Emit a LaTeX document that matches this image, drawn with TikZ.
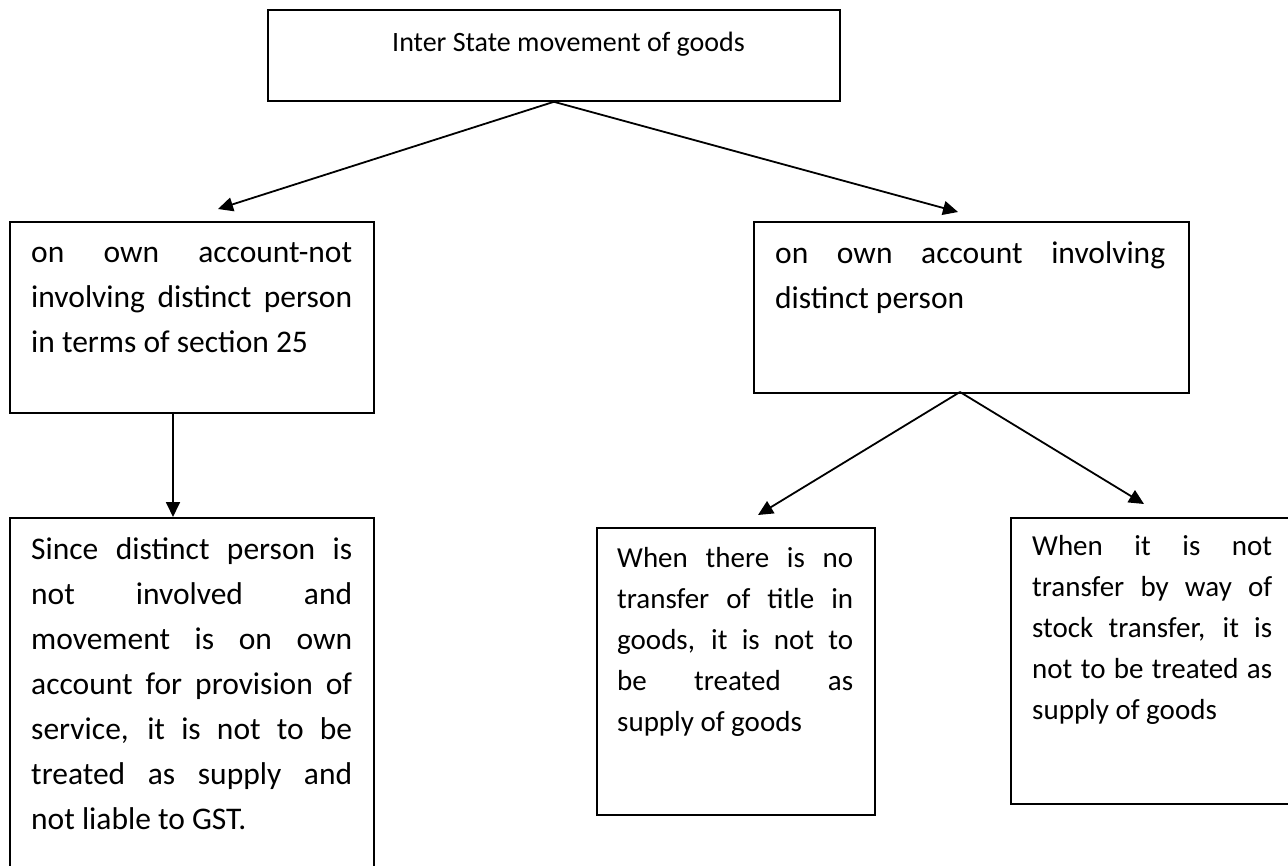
\documentclass[tikz,border=0pt]{standalone}
\usepackage{fontspec}
\setmainfont{Carlito}
\usetikzlibrary{arrows.meta,calc}
\hyphenpenalty=10000
\exhyphenpenalty=10000
\tolerance=10000
\begin{document}
\begin{tikzpicture}[x=1pt,y=-1pt,
  box/.style={draw, line width=1.8pt, rectangle, inner sep=0pt, anchor=north west},
  conn/.style={line width=1.8pt, -{Triangle[length=15pt,width=14pt]}},
  bigtxt/.style={inner sep=0pt, anchor=north west, align=justify, font=\fontsize{31.5}{45}\selectfont},
  smalltxt/.style={inner sep=0pt, anchor=north west, align=justify, font=\fontsize{29}{41}\selectfont}]
\useasboundingbox (0,0) rectangle (1288,866);
\clip (0,0) rectangle (1288,866);
\fill[white] (0,0) rectangle (1288,866);
% boxes
\node[box, minimum width=572pt, minimum height=91pt] (top) at (267,9) {};
\node[box, minimum width=364pt, minimum height=191pt] (left) at (9,221) {};
\node[box, minimum width=435pt, minimum height=171pt] (right) at (753,221) {};
\node[box, minimum width=364pt, minimum height=400pt] (bl) at (9,517) {};
\node[box, minimum width=278pt, minimum height=287pt] (bm) at (596,527) {};
\node[box, minimum width=320pt, minimum height=286pt] (br) at (1010,517) {};
% texts
\node[anchor=base west, inner sep=0pt, font=\fontsize{28}{34}\selectfont] (toptxt) at (392,52) {Inter State movement of goods};
\node[bigtxt, text width=321pt] (lefttxt) at (31,230.5) {\strut on own account-not\linebreak involving distinct person\linebreak in terms of section 25};
\node[bigtxt, text width=390pt] (righttxt) at (775,231.5) {\strut on own account involving\linebreak distinct person};
\node[bigtxt, text width=321pt] (bltxt) at (31,527.5) {\strut Since distinct person is\linebreak not involved and\linebreak movement is on own\linebreak account for provision of\linebreak service, it is not to be\linebreak treated as supply and\linebreak not liable to GST.};
\node[smalltxt, text width=236pt] (bmtxt) at (617,538.3) {\strut When there is no\linebreak transfer of title in\linebreak goods, it is not to\linebreak be treated as\linebreak supply of goods};
\node[smalltxt, text width=240pt] (brtxt) at (1032,526.3) {\strut When it is not\linebreak transfer by way of\linebreak stock transfer, it is\linebreak not to be treated as\linebreak supply of goods};
% connector end points
\coordinate (tipL) at (218,209);
\coordinate (tipR) at (958,212);
\coordinate (vstart) at (173,412);
\coordinate (tipBL) at (173,517);
\coordinate (rapex) at (960,392);
\coordinate (tipBM) at (758,515);
\coordinate (tipBR) at (1144,504);
% connectors
\draw[conn] (top.south) -- (tipL);
\draw[conn] (top.south) -- (tipR);
\draw[conn] (vstart) -- (tipBL);
\draw[conn] (rapex) -- (tipBM);
\draw[conn] (rapex) -- (tipBR);
\end{tikzpicture}
\end{document}
